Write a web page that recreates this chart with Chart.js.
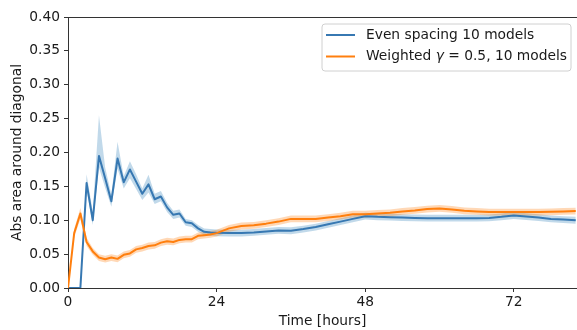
<!DOCTYPE html>
<html><head><meta charset="utf-8">
<script src="https://cdn.jsdelivr.net/npm/chart.js@4/dist/chart.umd.min.js"></script>
<style>html,body{margin:0;padding:0;background:#fff;overflow:hidden}</style>
</head><body>
<canvas id="c" width="577" height="330" style="width:577px;height:330px;display:block"></canvas>
<script>
const times = [0,1,2,3,4,5,6,7,8,9,10,11,12,13,14,15,16,17,18,19,20,21,22,23,24,
  26,28,30,32,34,36,38,40,42,44,46,48,50,52,54,56,58,60,62,64,66,68,70,72,74,76,78,80,82];

const evenMean = [0,0,0,0.155,0.100,0.195,0.162,0.128,0.191,0.156,0.175,0.157,0.139,0.153,0.131,0.135,0.119,0.108,0.110,0.097,0.0955,0.088,0.083,0.082,0.0815,
  0.081,0.081,0.082,0.0835,0.085,0.0845,0.087,0.090,0.094,0.098,0.102,0.106,0.105,0.1045,0.104,0.1035,0.103,0.103,0.103,0.103,0.103,0.1035,0.105,0.107,0.1055,0.104,0.102,0.101,0.100];
const evenLow = [0,0,0,0.145,0.093,0.178,0.148,0.120,0.176,0.147,0.162,0.146,0.130,0.141,0.124,0.128,0.112,0.102,0.104,0.092,0.090,0.083,0.078,0.077,0.0765,
  0.076,0.076,0.077,0.0785,0.080,0.0795,0.082,0.085,0.089,0.093,0.097,0.101,0.100,0.0995,0.099,0.0985,0.098,0.098,0.098,0.098,0.098,0.0985,0.100,0.102,0.1005,0.099,0.097,0.096,0.095];
const evenHigh = [0,0,0,0.168,0.113,0.255,0.178,0.138,0.216,0.165,0.187,0.168,0.147,0.167,0.139,0.143,0.126,0.114,0.116,0.102,0.100,0.093,0.088,0.087,0.0865,
  0.086,0.086,0.087,0.0885,0.090,0.0895,0.092,0.095,0.099,0.103,0.107,0.111,0.110,0.1095,0.109,0.1085,0.108,0.108,0.108,0.108,0.108,0.1085,0.110,0.112,0.1105,0.109,0.107,0.106,0.105];

const weightedMean = [0,0.081,0.110,0.068,0.054,0.045,0.0425,0.045,0.043,0.049,0.051,0.057,0.059,0.062,0.063,0.067,0.069,0.068,0.071,0.072,0.072,0.077,0.078,0.079,0.081,
  0.088,0.0915,0.0925,0.095,0.098,0.102,0.102,0.102,0.104,0.106,0.109,0.109,0.110,0.111,0.113,0.1145,0.1165,0.1175,0.116,0.114,0.113,0.112,0.112,0.112,0.112,0.112,0.1125,0.113,0.1136];
const weightedLow = [0,0.075,0.102,0.062,0.049,0.040,0.0375,0.040,0.038,0.044,0.046,0.052,0.054,0.057,0.058,0.062,0.064,0.063,0.066,0.067,0.067,0.072,0.073,0.074,0.076,
  0.083,0.0865,0.0875,0.090,0.093,0.097,0.097,0.097,0.099,0.101,0.104,0.104,0.105,0.106,0.108,0.1095,0.1115,0.1125,0.111,0.109,0.108,0.107,0.107,0.107,0.107,0.107,0.1075,0.108,0.1086];
const weightedHigh = [0,0.087,0.118,0.074,0.059,0.050,0.0475,0.050,0.048,0.054,0.056,0.062,0.064,0.067,0.068,0.072,0.074,0.073,0.076,0.077,0.077,0.082,0.083,0.084,0.086,
  0.093,0.0965,0.0975,0.100,0.103,0.107,0.107,0.107,0.109,0.111,0.114,0.114,0.115,0.116,0.118,0.1195,0.1215,0.1225,0.121,0.119,0.118,0.117,0.117,0.117,0.117,0.117,0.1175,0.118,0.1186];

const xTicks = [0,24,48,72];
const xMax = 82.2;
const yMin = 0, yMax = 0.40, yStep = 0.05;
const seriesLabels = ['Even spacing 10 models', 'Weighted γ = 0.5, 10 models'];

const BLUE = '#3778b2', ORANGE = '#ff7f0e';
const BLUE_BAND = 'rgba(31,119,180,0.28)', ORANGE_BAND = 'rgba(255,127,14,0.30)';
const FONT = "'DejaVu Sans', sans-serif";
const FS = 13.8;
const pts = arr => times.map((t, i) => ({x: t, y: arr[i]}));

const bandBase = {pointRadius: 0, borderWidth: 0, tension: 0};
const datasets = [
  Object.assign({label: 'evenHigh', data: pts(evenHigh), fill: '+1', backgroundColor: BLUE_BAND, order: 3}, bandBase),
  Object.assign({label: 'evenLow', data: pts(evenLow), fill: false, order: 3}, bandBase),
  Object.assign({label: 'weightedHigh', data: pts(weightedHigh), fill: '+1', backgroundColor: ORANGE_BAND, order: 2}, bandBase),
  Object.assign({label: 'weightedLow', data: pts(weightedLow), fill: false, order: 2}, bandBase),
  {label: seriesLabels[0], data: pts(evenMean), borderColor: BLUE, borderWidth: 2, pointRadius: 0, fill: false, tension: 0, order: 1, borderJoinStyle: 'round'},
  {label: seriesLabels[1], data: pts(weightedMean), borderColor: ORANGE, borderWidth: 2, pointRadius: 0, fill: false, tension: 0, order: 0, borderJoinStyle: 'round'}
];

const legendPlugin = {
  id: 'mplLegend',
  afterDraw(chart) {
    const ctx = chart.ctx;
    ctx.save();
    const bx = 322, by = 24, bw = 249, bh = 47, r = 3;
    ctx.beginPath();
    ctx.moveTo(bx + r, by);
    ctx.arcTo(bx + bw, by, bx + bw, by + bh, r);
    ctx.arcTo(bx + bw, by + bh, bx, by + bh, r);
    ctx.arcTo(bx, by + bh, bx, by, r);
    ctx.arcTo(bx, by, bx + bw, by, r);
    ctx.closePath();
    ctx.fillStyle = 'rgba(255,255,255,0.8)';
    ctx.fill();
    ctx.strokeStyle = '#d0d0d0';
    ctx.lineWidth = 1;
    ctx.stroke();
    const rows = [{y: 35, c: BLUE}, {y: 56.5, c: ORANGE}];
    rows.forEach((row, i) => {
      ctx.beginPath();
      ctx.moveTo(326, row.y);
      ctx.lineTo(355, row.y);
      ctx.strokeStyle = row.c;
      ctx.lineWidth = 2;
      ctx.stroke();
    });
    ctx.fillStyle = '#1a1a1a';
    ctx.textBaseline = 'middle';
    ctx.textAlign = 'left';
    ctx.font = FS + 'px ' + FONT;
    ctx.fillText(seriesLabels[0], 366, rows[0].y);
    // second label with italic gamma
    const parts = seriesLabels[1].split('γ');
    let x = 366;
    ctx.fillText(parts[0], x, rows[1].y);
    x += ctx.measureText(parts[0]).width;
    ctx.font = 'italic ' + FS + 'px ' + FONT;
    ctx.fillText('γ', x, rows[1].y);
    x += ctx.measureText('γ').width;
    ctx.font = FS + 'px ' + FONT;
    ctx.fillText(parts[1], x, rows[1].y);
    ctx.restore();
  }
};

const topSpine = {
  id: 'topSpine',
  afterDatasetsDraw(chart) {
    const {ctx, chartArea} = chart;
    ctx.save();
    ctx.strokeStyle = '#333';
    ctx.lineWidth = 1;
    ctx.beginPath();
    ctx.moveTo(chartArea.left, Math.round(chartArea.top) + 0.5);
    ctx.lineTo(chartArea.right, Math.round(chartArea.top) + 0.5);
    ctx.stroke();
    ctx.restore();
  }
};

new Chart(document.getElementById('c'), {
  type: 'line',
  data: {datasets},
  plugins: [topSpine, legendPlugin],
  options: {
    responsive: false,
    animation: false,
    events: [],
    layout: {padding: {top: 17, left: 0, right: 0, bottom: 0}},
    plugins: {legend: {display: false}, tooltip: {enabled: false}},
    scales: {
      x: {
        type: 'linear', min: 0, max: xMax,
        afterBuildTicks: s => { s.ticks = xTicks.map(v => ({value: v})); },
        afterFit: s => { s.height = 42; },
        grid: {display: true, drawOnChartArea: false, drawTicks: true, tickLength: 4, color: '#333', tickWidth: 1},
        border: {display: true, color: '#333', width: 1},
        ticks: {color: '#1a1a1a', font: {family: FONT, size: FS}, padding: 2, maxRotation: 0, autoSkip: false},
        title: {display: true, text: 'Time [hours]', color: '#1a1a1a', font: {family: FONT, size: FS}, padding: {top: 0, bottom: 0}}
      },
      y: {
        type: 'linear', min: yMin, max: yMax,
        ticks: {stepSize: yStep, color: '#1a1a1a', font: {family: FONT, size: FS}, padding: 4, callback: v => v.toFixed(2)},
        afterFit: s => { s.width = 68; },
        grid: {display: true, drawOnChartArea: false, drawTicks: true, tickLength: 4, color: '#333', tickWidth: 1},
        border: {display: true, color: '#333', width: 1},
        title: {display: true, text: 'Abs area around diagonal', color: '#1a1a1a', font: {family: FONT, size: FS}, padding: {top: 9, bottom: 0}}
      }
    }
  }
});
</script>
</body></html>
